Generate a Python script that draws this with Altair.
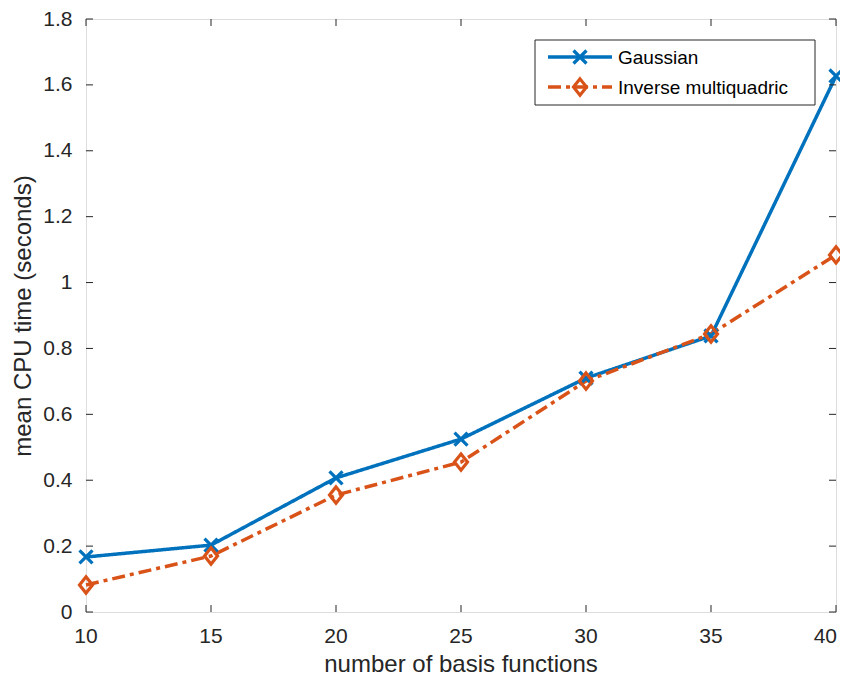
import altair as alt
import pandas as pd

n_basis = [10, 15, 20, 25, 30, 35, 40]
gaussian = [0.167, 0.203, 0.407, 0.525, 0.710, 0.838, 1.627]
inverse_mq = [0.082, 0.170, 0.355, 0.455, 0.701, 0.844, 1.084]
series_names = ["Gaussian", "Inverse multiquadric"]
series_colors = ["#0072BD", "#D95319"]
x_ticks = [10, 15, 20, 25, 30, 35, 40]
y_ticks = [0, 0.2, 0.4, 0.6, 0.8, 1.0, 1.2, 1.4, 1.6, 1.8]
x_title = ["number of basis functions"]
y_title = "mean CPU time (seconds)"

W, H = 750, 593
FONT = "Liberation Sans"
TXT = "#262626"

df = pd.DataFrame({
    "n": n_basis * 2,
    "t": gaussian + inverse_mq,
    "series": [series_names[0]] * len(n_basis) + [series_names[1]] * len(n_basis),
})

xscale = alt.Scale(domain=[10, 40], nice=False, zero=False)
yscale = alt.Scale(domain=[0, 1.8], nice=False)

X_PATH = "M-1,-1L1,1M-1,1L1,-1"
D_PATH = "M0,-1.25L1,0L0,1.25L-1,0Z"

color = alt.Color("series:N", scale=alt.Scale(domain=series_names, range=series_colors), legend=None)

lines = alt.Chart(df).mark_line(strokeWidth=3.5).encode(
    x=alt.X("n:Q", scale=xscale, axis=None),
    y=alt.Y("t:Q", scale=yscale,
            axis=alt.Axis(values=y_ticks, tickSize=0, domain=False, grid=False, labelPadding=14,
                          labelFontSize=21, labelColor=TXT, labelFont=FONT, format="~g",
                          title=y_title, titleFontSize=24, titleFontWeight="normal",
                          titleColor=TXT, titleFont=FONT, titlePadding=7, labelFlush=False)),
    color=color,
    strokeDash=alt.StrokeDash("series:N", scale=alt.Scale(domain=series_names, range=[[1, 0], [13, 5, 4, 5]]), legend=None),
    order=alt.Order("n:Q"),
)

points = alt.Chart(df).mark_point(filled=False, strokeWidth=3.2, size=169, opacity=1).encode(
    x=alt.X("n:Q", scale=xscale),
    y=alt.Y("t:Q", scale=yscale),
    color=color,
    shape=alt.Shape("series:N", scale=alt.Scale(domain=series_names, range=[X_PATH, D_PATH]), legend=None),
)

xt = pd.DataFrame({"v": x_ticks})
yt = pd.DataFrame({"v": y_ticks})
tick_style = dict(color=TXT, strokeWidth=1)
xb = alt.Chart(xt).mark_rule(**tick_style).encode(x=alt.X("v:Q", scale=xscale), y=alt.value(H), y2=alt.value(H - 7))
xtp = alt.Chart(xt).mark_rule(**tick_style).encode(x=alt.X("v:Q", scale=xscale), y=alt.value(0), y2=alt.value(7))
yl = alt.Chart(yt).mark_rule(**tick_style).encode(y=alt.Y("v:Q", scale=yscale), x=alt.value(0), x2=alt.value(7))
yr = alt.Chart(yt).mark_rule(**tick_style).encode(y=alt.Y("v:Q", scale=yscale), x=alt.value(W), x2=alt.value(W - 7))

# x tick labels (last one kept inside the page edge)
xlab_main = alt.Chart(pd.DataFrame({"v": x_ticks[:-1]})).mark_text(
    fontSize=21, font=FONT, color=TXT, baseline="alphabetic", align="center").encode(
    x=alt.X("v:Q", scale=xscale), y=alt.value(H + 31), text="v:Q")
xlab_last = alt.Chart(pd.DataFrame({"v": x_ticks[-1:]})).mark_text(
    fontSize=21, font=FONT, color=TXT, baseline="alphabetic", align="right").encode(
    x=alt.value(W + 1), y=alt.value(H + 31), text="v:Q")
xtitle = alt.Chart(pd.DataFrame({"t": x_title})).mark_text(
    fontSize=24, font=FONT, color=TXT, baseline="alphabetic", align="center").encode(
    x=alt.value(W / 2), y=alt.value(H + 60), text="t:N")

# manual legend
leg_df = pd.DataFrame({"series": series_names})
box = alt.Chart(leg_df.head(1)).mark_rect(fill="white", stroke=TXT, strokeWidth=1).encode(
    x=alt.value(449), x2=alt.value(729), y=alt.value(21), y2=alt.value(86))
leg_layers = [box]
rows = [38, 68]
dashes = [[1, 0], [13, 5, 4, 5]]
paths = [X_PATH, D_PATH]
for i, name in enumerate(series_names):
    d = leg_df.iloc[[i]]
    leg_layers.append(alt.Chart(d).mark_rule(color=series_colors[i], strokeWidth=3.5, strokeDash=dashes[i]).encode(
        x=alt.value(462), x2=alt.value(526), y=alt.value(rows[i])))
    leg_layers.append(alt.Chart(d).mark_point(color=series_colors[i], shape=paths[i], filled=False, strokeWidth=3.2, size=169, opacity=1).encode(
        x=alt.value(494), y=alt.value(rows[i])))
    leg_layers.append(alt.Chart(d).mark_text(align="left", baseline="middle", fontSize=19, font=FONT, color="black").encode(
        x=alt.value(532), y=alt.value(rows[i] + 1), text="series:N"))

chart = alt.layer(lines, points, xb, xtp, yl, yr, xlab_main, xlab_last, xtitle, *leg_layers).properties(
    width=W, height=H,
    padding={"left": 78, "top": 11, "right": 4, "bottom": 66},
    autosize="none",
).configure_view(stroke=TXT, strokeWidth=1).configure(font=FONT)

chart.save("out.html", embed_options={"renderer": "svg", "actions": False})
